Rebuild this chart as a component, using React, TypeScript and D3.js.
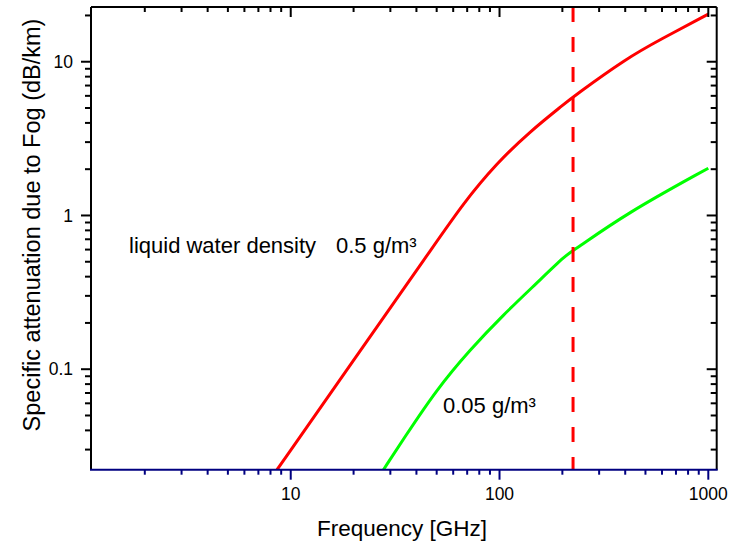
import React from 'react';
import * as d3 from 'd3';

// values (frequency in GHz, attenuation in dB/km)
const redFreq = [8.6, 20.1, 47, 67, 97, 140, 202, 226, 407, 587, 1000];
const redAtt = [0.0222, 0.1156, 0.598, 1.2, 2.19, 3.52, 5.25, 5.94, 10.55, 13.9, 20.4];

const greenFreq = [27.8, 34.6, 50, 72.2, 104.3, 150.7, 209.8, 226, 407, 1000];
const greenAtt = [0.0222, 0.035, 0.074, 0.134, 0.226, 0.363, 0.56, 0.59, 1.036, 2.03];

const markerFreq = 225;

const xTickLabels = [10, 100, 1000];
const yTickLabels = [0.1, 1, 10];

const width = 734;
const height = 543;
const left = 91;
const right = 716.7;
const top = 7;
const bottom = 469.7;

const font = "'Liberation Sans', Arial, sans-serif";

const App = () => {
  const x = d3.scaleLog().domain([1.105, 1097]).range([left, right]);
  const y = d3.scaleLog().domain([0.0222, 22.7]).range([bottom, top]);

  const line = d3.line<[number, number]>()
    .x(d => x(d[0]))
    .y(d => y(d[1]))
    .curve(d3.curveBasis);

  const red = redFreq.map((f, i) => [f, redAtt[i]] as [number, number]);
  const green = greenFreq.map((f, i) => [f, greenAtt[i]] as [number, number]);

  const isMajor = (v: number) => Math.abs(Math.log10(v) - Math.round(Math.log10(v))) < 1e-6;
  const xTicks = x.ticks();
  const yTicks = y.ticks();

  return (
    <svg width={width} height={height} style={{ position: 'absolute', left: 0, top: 0, background: '#fff' }}
      fontFamily={font}>
      <defs>
        <clipPath id="plot">
          <rect x={left} y={top} width={right - left} height={bottom - top} />
        </clipPath>
      </defs>

      <g clipPath="url(#plot)">
        <path d={line(red) || ''} fill="none" stroke="#ff0000" strokeWidth={3} />
        <path d={line(green) || ''} fill="none" stroke="#00ff00" strokeWidth={3} />
        <line x1={x(markerFreq)} x2={x(markerFreq)} y1={top} y2={bottom}
          stroke="#ff0000" strokeWidth={3} strokeDasharray="15,15" />
      </g>

      {/* frame */}
      <line x1={left} x2={left} y1={top} y2={bottom} stroke="#000" strokeWidth={2} />
      <line x1={right} x2={right} y1={top} y2={bottom} stroke="#000" strokeWidth={2} />
      <line x1={left} x2={right} y1={top} y2={top} stroke="#000" strokeWidth={2} />

      {/* x ticks */}
      {xTicks.map(t => {
        const len = isMajor(t) ? 10 : 5;
        return (
          <g key={'xt' + t}>
            <line x1={x(t)} x2={x(t)} y1={bottom} y2={bottom + len} stroke="#000080" strokeWidth={2} />
            <line x1={x(t)} x2={x(t)} y1={top} y2={top + len} stroke="#000" strokeWidth={2} />
          </g>
        );
      })}
      <line x1={left - 1} x2={right + 1} y1={bottom} y2={bottom} stroke="#000080" strokeWidth={2} />

      {/* y ticks */}
      {yTicks.map(t => {
        const len = isMajor(t) ? 10 : 6;
        return (
          <g key={'yt' + t}>
            <line x1={left - len} x2={left} y1={y(t)} y2={y(t)} stroke="#000" strokeWidth={2} />
            <line x1={right - len} x2={right} y1={y(t)} y2={y(t)} stroke="#000" strokeWidth={2} />
          </g>
        );
      })}

      {xTickLabels.map(t => (
        <text key={'xl' + t} x={x(t)} y={500} textAnchor="middle" fontSize={17.5} fill="#000">{t}</text>
      ))}
      {yTickLabels.map(t => (
        <text key={'yl' + t} x={73} y={y(t)} dy="0.35em" textAnchor="end" fontSize={17.5} fill="#000">{t}</text>
      ))}

      <text x={402} y={536} textAnchor="middle" fontSize={22.5} fill="#000">Frequency [GHz]</text>
      <text transform="translate(40, 225) rotate(-90)" textAnchor="middle" fontSize={23.5} fill="#000">
        Specific attenuation due to Fog (dB/km)
      </text>

      <text x={129} y={252.5} fontSize={22} fill="#000">liquid water density</text>
      <text x={336} y={252.5} fontSize={22} fill="#000">0.5 g/m³</text>
      <text x={443} y={413} fontSize={22} fill="#000">0.05 g/m³</text>
    </svg>
  );
};

export default App;
